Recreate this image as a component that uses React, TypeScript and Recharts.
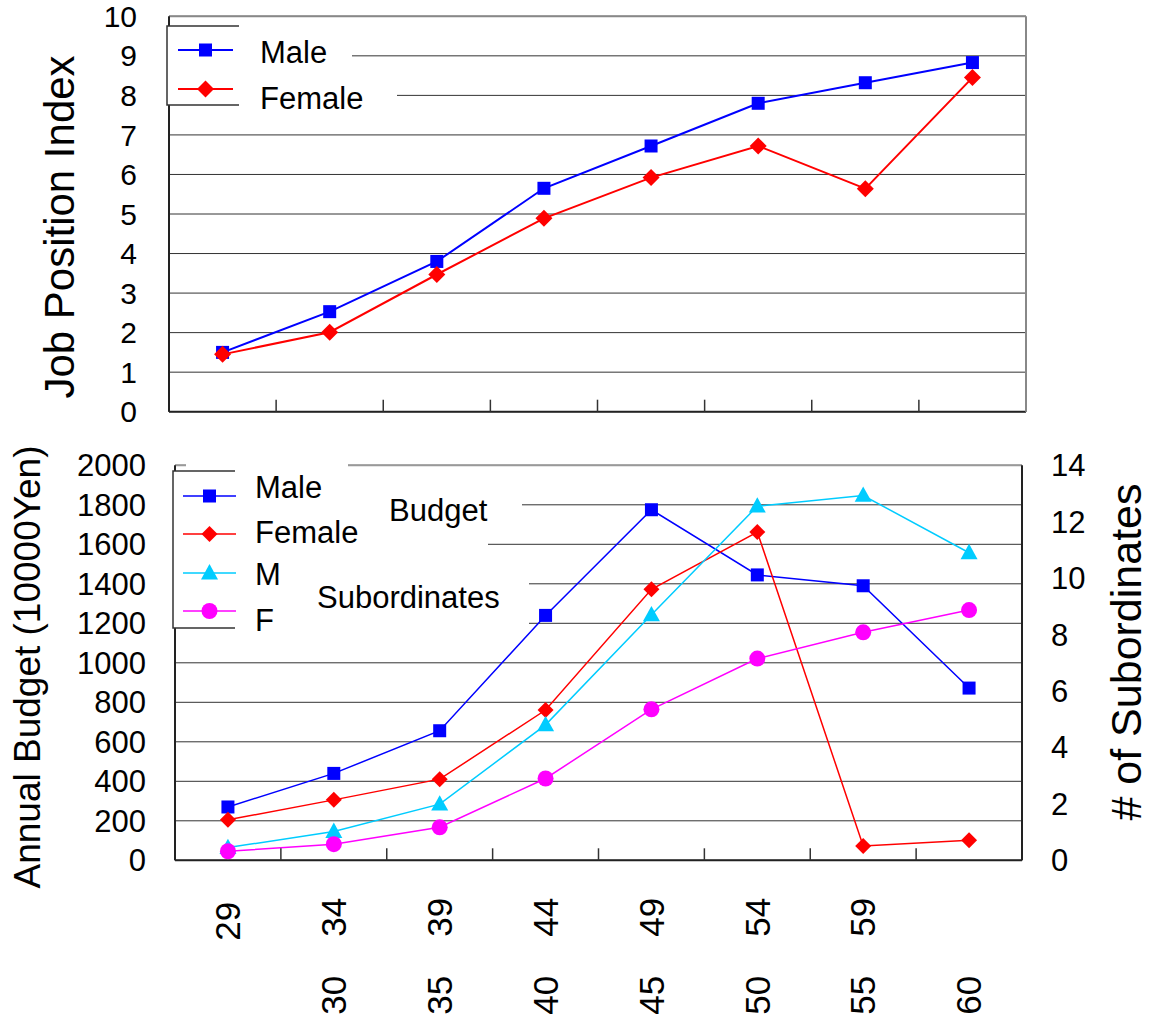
import React from "react";
import { CartesianGrid, Line, LineChart, XAxis, YAxis } from "recharts";

const FONT = "'Liberation Sans', Arial, sans-serif";

const ageGroups = ["～29", "30～34", "35～39", "40～44", "45～49", "50～54", "55～59", "60～"];

const positionMale = [1.5, 2.53, 3.8, 5.65, 6.72, 7.8, 8.32, 8.83];
const positionFemale = [1.45, 2.01, 3.47, 4.89, 5.92, 6.72, 5.64, 8.45];

const budgetMale = [270, 440, 656, 1240, 1775, 1445, 1390, 872];
const budgetFemale = [205, 306, 411, 761, 1372, 1662, 73, 102];
const subordinatesMale = [0.45, 1.02, 1.99, 4.8, 8.7, 12.55, 12.93, 10.9];
const subordinatesFemale = [0.32, 0.57, 1.17, 2.9, 5.35, 7.15, 8.08, 8.87];

const positionTicks = [0, 1, 2, 3, 4, 5, 6, 7, 8, 9, 10];
const budgetTicks = [0, 200, 400, 600, 800, 1000, 1200, 1400, 1600, 1800, 2000];
const subordinateTicks = [0, 2, 4, 6, 8, 10, 12, 14];
const boundaryTicks = [0, 1, 2, 3, 4, 5, 6, 7, 8];
const centerTicks = ageGroups.map((_, i) => i + 0.5);

const positionData = ageGroups.map((group, i) => ({
  x: i + 0.5,
  group,
  male: positionMale[i],
  female: positionFemale[i],
}));

const budgetData = ageGroups.map((group, i) => ({
  x: i + 0.5,
  group,
  budgetMale: budgetMale[i],
  budgetFemale: budgetFemale[i],
  subMale: subordinatesMale[i],
  subFemale: subordinatesFemale[i],
}));

const BLUE = "#0000ff";
const RED = "#ff0000";
const CYAN = "#00ccff";
const MAGENTA = "#ff00ff";

type Shape = "square" | "diamond" | "triangle" | "circle";

function Marker({ shape, cx, cy, size, color }: { shape: Shape; cx: number; cy: number; size: number; color: string }) {
  const h = size / 2;
  if (shape === "square") {
    return <rect x={cx - h} y={cy - h} width={size} height={size} fill={color} />;
  }
  if (shape === "diamond") {
    return <polygon points={`${cx},${cy - h} ${cx + h},${cy} ${cx},${cy + h} ${cx - h},${cy}`} fill={color} />;
  }
  if (shape === "triangle") {
    return (
      <polygon
        points={`${cx},${cy - h * 1.05} ${cx + h},${cy + h * 0.75} ${cx - h},${cy + h * 0.75}`}
        fill={color}
      />
    );
  }
  return <circle cx={cx} cy={cy} r={h} fill={color} />;
}

function dotOf(shape: Shape, color: string, size: number) {
  return (props: any) => {
    const { cx, cy, index } = props;
    if (cx == null || cy == null) return <g key={`d-${index}`} />;
    return <Marker key={`d-${index}`} shape={shape} cx={cx} cy={cy} size={size} color={color} />;
  };
}

// tick marks only, no label
function NoLabel() {
  return <g />;
}

function AgeTick(props: any) {
  const { x, y, payload } = props;
  const label = ageGroups[Math.floor(payload.value)] || "";
  const [from, to] = label.split("～");
  const parts: { text: string; cy: number }[] = [];
  if (to) parts.push({ text: to, cy: y + (from ? 57 : 61) });
  if (from) parts.push({ text: from, cy: y + 135 });
  return (
    <g>
      {parts.map((p) => (
        <text
          key={p.text + p.cy}
          x={x}
          y={p.cy}
          dy="0.35em"
          textAnchor="middle"
          transform={`rotate(-90 ${x} ${p.cy})`}
          fontSize={35}
          fontFamily={FONT}
          fill="#000"
        >
          {p.text}
        </text>
      ))}
    </g>
  );
}

function VTitle({ x, y, size, children }: { x: number; y: number; size: number; children: string }) {
  return (
    <text
      x={x}
      y={y}
      dy="0.35em"
      textAnchor="middle"
      transform={`rotate(-90 ${x} ${y})`}
      fontSize={size}
      fontFamily={FONT}
      fill="#000"
    >
      {children}
    </text>
  );
}

function LegendRow({ y, ty, shape, color, size, label, x1, x2, tx, width }: any) {
  return (
    <g>
      <line x1={x1} x2={x2} y1={y} y2={y} stroke={color} strokeWidth={width} />
      <Marker shape={shape} cx={(x1 + x2) / 2} cy={y} size={size} color={color} />
      <text x={tx} y={ty} dy="0.36em" fontSize={31} fontFamily={FONT} fill="#000">
        {label}
      </text>
    </g>
  );
}

function Overlay() {
  return (
    <svg width={1150} height={1021} style={{ position: "absolute", left: 0, top: 0, pointerEvents: "none" }}>
      {/* axis titles */}
      <VTitle x={59} y={227} size={42}>Job Position Index</VTitle>
      <VTitle x={27} y={667} size={37}>Annual Budget (10000Yen)</VTitle>
      <VTitle x={1126} y={652} size={43}># of Subordinates</VTitle>

      {/* top legend */}
      <rect x={167} y={26} width={72} height={79} fill="#fff" />
      <rect x={239} y={26} width={113} height={49} fill="#fff" />
      <rect x={239} y={75} width={158} height={30} fill="#fff" />
      <path d="M239 26 H167 V105 H239" fill="none" stroke="#333" strokeWidth={1.5} />
      <LegendRow y={50} ty={52} shape="square" color={BLUE} size={13} label="Male" x1={178} x2={233} tx={260} width={2} />
      <LegendRow y={89} ty={98} shape="diamond" color={RED} size={17} label="Female" x1={178} x2={233} tx={260} width={2} />

      {/* bottom legend */}
      <rect x={186} y={462} width={162} height={9} fill="#fff" />
      <rect x={173} y={471} width={62} height={157} fill="#fff" />
      <rect x={235} y={467} width={287} height={58} fill="#fff" />
      <rect x={235} y={525} width={253} height={40} fill="#fff" />
      <rect x={235} y={565} width={294} height={65} fill="#fff" />
      <path d="M235 471 H173 V628 H235" fill="none" stroke="#333" strokeWidth={1.5} />
      <LegendRow y={496} ty={487} shape="square" color={BLUE} size={13} label="Male" x1={183} x2={236} tx={255} width={1.5} />
      <LegendRow y={534} ty={532} shape="diamond" color={RED} size={16} label="Female" x1={183} x2={236} tx={255} width={1.5} />
      <LegendRow y={573} ty={574} shape="triangle" color={CYAN} size={17} label="M" x1={183} x2={236} tx={255} width={1.5} />
      <LegendRow y={611} ty={620} shape="circle" color={MAGENTA} size={16} label="F" x1={183} x2={236} tx={255} width={1.5} />
      <text x={389} y={510} dy="0.36em" fontSize={31} fontFamily={FONT} fill="#000">Budget</text>
      <text x={317} y={597} dy="0.36em" fontSize={31} fontFamily={FONT} fill="#000">Subordinates</text>
    </svg>
  );
}

function PositionChart() {
  return (
    <LineChart
      width={1150}
      height={430}
      data={positionData}
      margin={{ top: 15.3, right: 123, bottom: 18.3, left: 0 }}
    >
      <CartesianGrid xAxisId="aTicks" yAxisId="left" vertical={false} stroke="#333" strokeWidth={1} />
      <XAxis
        xAxisId="aTicks"
        dataKey="x"
        type="number"
        domain={[0, 8]}
        ticks={boundaryTicks}
        interval={0}
        tick={<NoLabel />}
        mirror
        height={1}
        tickSize={12}
        tickLine={{ stroke: "#333", strokeWidth: 1.5 }}
        axisLine={{ stroke: "#222", strokeWidth: 2 }}
      />
      <XAxis
        xAxisId="top"
        orientation="top"
        dataKey="x"
        type="number"
        domain={[0, 8]}
        height={1}
        tick={false}
        tickLine={false}
        axisLine={{ stroke: "#888", strokeWidth: 2 }}
      />
      <YAxis
        yAxisId="left"
        type="number"
        domain={[0, 10]}
        ticks={positionTicks}
        interval={0}
        width={169}
        tickSize={0}
        tickMargin={32}
        tickLine={false}
        axisLine={{ stroke: "#222", strokeWidth: 2 }}
        tick={{ fill: "#000", fontSize: 30, fontFamily: FONT }}
      />
      <YAxis
        yAxisId="right"
        orientation="right"
        type="number"
        domain={[0, 10]}
        width={1}
        tick={false}
        tickLine={false}
        axisLine={{ stroke: "#888", strokeWidth: 2 }}
      />
      <Line
        xAxisId="aTicks"
        yAxisId="left"
        dataKey="male"
        stroke={BLUE}
        strokeWidth={2}
        dot={dotOf("square", BLUE, 13)}
        activeDot={false}
        isAnimationActive={false}
      />
      <Line
        xAxisId="aTicks"
        yAxisId="left"
        dataKey="female"
        stroke={RED}
        strokeWidth={2}
        dot={dotOf("diamond", RED, 17)}
        activeDot={false}
        isAnimationActive={false}
      />
    </LineChart>
  );
}

function BudgetChart() {
  return (
    <LineChart width={1150} height={591} data={budgetData} margin={{ top: 34.3, right: 0, bottom: 0, left: 0 }}>
      <CartesianGrid xAxisId="aTicks" yAxisId="left" vertical={false} stroke="#333" strokeWidth={1} />
      <XAxis
        xAxisId="bLabels"
        dataKey="x"
        type="number"
        domain={[0, 8]}
        ticks={centerTicks}
        interval={0}
        height={160.7}
        tickSize={0}
        tickMargin={0}
        tickLine={false}
        axisLine={false}
        tick={<AgeTick />}
      />
      <XAxis
        xAxisId="aTicks"
        dataKey="x"
        type="number"
        domain={[0, 8]}
        ticks={boundaryTicks}
        interval={0}
        tick={<NoLabel />}
        mirror
        height={1}
        tickSize={12}
        tickLine={{ stroke: "#333", strokeWidth: 1.5 }}
        axisLine={{ stroke: "#222", strokeWidth: 2 }}
      />
      <XAxis
        xAxisId="top"
        orientation="top"
        dataKey="x"
        type="number"
        domain={[0, 8]}
        height={1}
        tick={false}
        tickLine={false}
        axisLine={{ stroke: "#999", strokeWidth: 2 }}
      />
      <YAxis
        yAxisId="left"
        type="number"
        domain={[0, 2000]}
        ticks={budgetTicks}
        interval={0}
        width={175}
        tickSize={0}
        tickMargin={29}
        tickLine={false}
        axisLine={{ stroke: "#222", strokeWidth: 2 }}
        tick={{ fill: "#000", fontSize: 31, fontFamily: FONT }}
      />
      <YAxis
        yAxisId="bRight"
        orientation="right"
        type="number"
        domain={[0, 14]}
        ticks={subordinateTicks}
        interval={0}
        width={128}
        tickSize={0}
        tickMargin={29}
        tickLine={false}
        axisLine={false}
        tick={{ fill: "#000", fontSize: 31, fontFamily: FONT }}
      />
      <YAxis
        yAxisId="aRightTicks"
        orientation="right"
        type="number"
        domain={[0, 14]}
        ticks={subordinateTicks}
        interval={0}
        width={1}
        mirror
        tick={<NoLabel />}
        tickSize={12}
        tickLine={{ stroke: "#444", strokeWidth: 1.5 }}
        axisLine={{ stroke: "#222", strokeWidth: 2 }}
      />
      <Line
        xAxisId="aTicks"
        yAxisId="left"
        dataKey="budgetMale"
        stroke={BLUE}
        strokeWidth={1.5}
        dot={dotOf("square", BLUE, 13)}
        activeDot={false}
        isAnimationActive={false}
      />
      <Line
        xAxisId="aTicks"
        yAxisId="left"
        dataKey="budgetFemale"
        stroke={RED}
        strokeWidth={1.5}
        dot={dotOf("diamond", RED, 16)}
        activeDot={false}
        isAnimationActive={false}
      />
      <Line
        xAxisId="aTicks"
        yAxisId="bRight"
        dataKey="subMale"
        stroke={CYAN}
        strokeWidth={1.5}
        dot={dotOf("triangle", CYAN, 17)}
        activeDot={false}
        isAnimationActive={false}
      />
      <Line
        xAxisId="aTicks"
        yAxisId="bRight"
        dataKey="subFemale"
        stroke={MAGENTA}
        strokeWidth={1.5}
        dot={dotOf("circle", MAGENTA, 16)}
        activeDot={false}
        isAnimationActive={false}
      />
    </LineChart>
  );
}

export default function App() {
  return (
    <div style={{ position: "absolute", left: 0, top: 0, width: 1150, height: 1021, background: "#fff" }}>
      <div style={{ position: "absolute", left: 0, top: 0 }}>
        <PositionChart />
      </div>
      <div style={{ position: "absolute", left: 0, top: 430 }}>
        <BudgetChart />
      </div>
      <Overlay />
    </div>
  );
}
